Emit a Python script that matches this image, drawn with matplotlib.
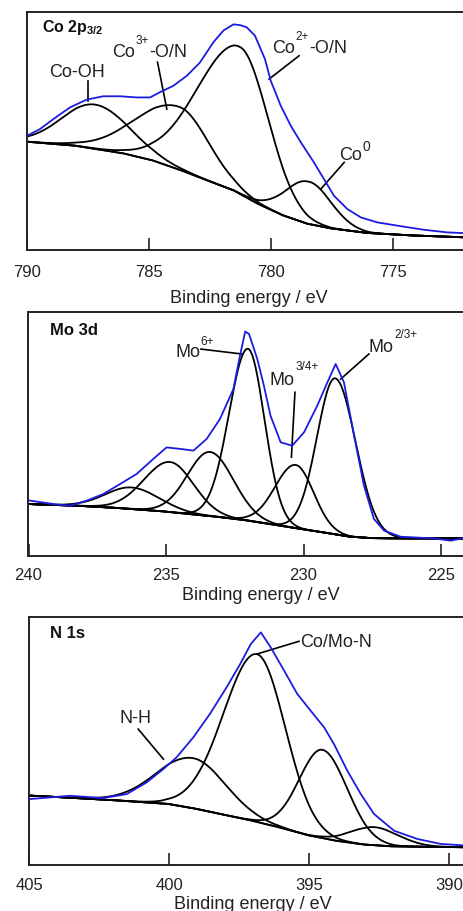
import numpy as np
import matplotlib
matplotlib.use("Agg")
import matplotlib.pyplot as plt
from matplotlib.transforms import offset_copy

plt.rcParams['font.family'] = ['Liberation Sans', 'DejaVu Sans']
plt.rcParams['mathtext.fontset'] = 'custom'
plt.rcParams['mathtext.rm'] = 'Liberation Sans'
plt.rcParams['mathtext.it'] = 'Liberation Sans:italic'
plt.rcParams['mathtext.bf'] = 'Liberation Sans:bold'

# ---------------- Co 2p3/2 ----------------
co_bg_ev = [790, 788, 786, 784.8, 783.5, 782.5, 781.5, 780.5, 779.5, 778.5, 777.5, 776, 774, 772]
co_bg_y = [45.5, 43.8, 40.5, 37.5, 32.8, 28.8, 24.9, 19.2, 14.5, 11.0, 9.0, 7.1, 6.0, 5.3]
co_peak_center = [787.2, 783.75, 781.25, 778.45]
co_peak_height = [18.6, 26.4, 61.7, 17.8]
co_peak_sig_l = [1.4, 1.2, 1.15, 0.92]
co_peak_sig_r = [1.35, 1.75, 1.75, 0.95]
co_spec_ev = [790, 789.47, 788.92, 788.24, 787.55, 786.87, 786.19, 785.5, 784.96, 784.55, 784.0,
              783.45, 782.91, 782.36, 781.95, 781.54, 781.27, 781.0, 780.66, 780.25, 780.01, 779.6,
              779.19, 778.78, 778.24, 777.83, 777.42, 776.87, 776.32, 775.64, 774.68, 773.73,
              772.77, 772.1]
co_spec_y = [48.0, 50.8, 55.0, 59.9, 63.2, 64.6, 64.6, 64.1, 64.1, 66.3, 69.0,
             73.2, 78.8, 87.3, 92.2, 94.8, 94.5, 93.6, 90.1, 80.3, 71.1, 60.6,
             52.2, 45.3, 36.8, 29.8, 22.8, 17.2, 13.7, 11.6, 10.0, 8.5,
             7.4, 7.1]

# ---------------- Mo 3d ----------------
mo_bg_ev = [240, 238, 236.5, 235, 234, 233, 232, 231, 230, 229, 228.3, 227.5, 226, 223]
mo_bg_y = [21.3, 20.5, 19.5, 18.2, 17.0, 15.9, 14.5, 12.7, 10.9, 9.2, 7.9, 7.3, 7.2, 7.2]
mo_peak_center = [236.25, 234.85, 233.4, 232.02, 230.28, 228.85]
mo_peak_height = [8.8, 20.5, 26.3, 70.4, 25.9, 63.9]
mo_peak_sig_l = [1.0, 0.85, 0.85, 0.6, 0.65, 0.75]
mo_peak_sig_r = [0.95, 0.95, 0.82, 0.69, 0.75, 0.66]
mo_spec_ev = [239.95, 239.1, 238.49, 237.88, 237.28, 236.67, 236.07, 235.46, 234.98, 234.49,
              234.0, 233.52, 233.04, 232.55, 232.31, 232.12, 231.98, 231.68, 231.44, 231.2,
              230.83, 230.41, 229.98, 229.5, 229.13, 228.83, 228.53, 228.16, 227.8, 227.44,
              227.07, 226.47, 225.25, 224.65, 224.0]
mo_spec_y = [22.7, 21.3, 20.6, 22.7, 25.4, 29.5, 33.6, 39.8, 44.5, 43.9,
             43.2, 48.0, 56.1, 68.4, 82.1, 92.0, 91.0, 80.7, 69.8, 57.5,
             46.6, 45.2, 50.7, 61.6, 71.2, 78.7, 71.2, 49.3, 28.8, 15.2,
             10.4, 7.9, 7.2, 6.3, 7.7]

# ---------------- N 1s ----------------
n_bg_ev = [405, 403, 401.5, 400, 399, 398, 397, 396, 395, 394, 393, 392, 389]
n_bg_y = [28.0, 26.8, 25.8, 24.6, 22.6, 20.2, 17.8, 15.0, 11.9, 9.7, 8.2, 7.5, 7.1]
n_peak_center = [399.13, 396.85, 394.52, 392.68]
n_peak_height = [20.2, 67.6, 35.6, 7.3]
n_peak_sig_l = [1.15, 1.0, 0.89, 0.88]
n_peak_sig_r = [1.3, 1.2, 0.83, 0.83]
n_spec_ev = [404.96, 403.54, 402.35, 401.51, 400.8, 400.2, 399.73, 399.13, 398.54, 397.94,
             397.46, 397.08, 396.72, 396.37, 395.89, 395.42, 394.94, 394.46, 394.11, 393.63,
             393.15, 392.68, 391.96, 391.13, 390.3, 389.3]
n_spec_y = [26.6, 27.9, 27.0, 28.6, 33.3, 38.7, 43.4, 51.5, 60.9, 71.7,
            81.0, 89.1, 93.8, 87.8, 78.4, 69.0, 62.2, 55.5, 48.8, 38.0,
            28.6, 20.6, 13.8, 10.5, 8.5, 7.8]

BLUE = '#1c1ce0'
TXT = '#222222'
W, H = 464, 912


def split_gauss(x, c, h, sl, sr):
    s = np.where(x < c, sl, sr)
    return h * np.exp(-(x - c) ** 2 / (2 * s ** 2))


def draw_panel(ax, bg_ev, bg_y, centers, heights, sl, sr, spec_ev, spec_y, xlim, ticks):
    x = np.linspace(min(bg_ev), max(bg_ev), 800)
    bg = np.interp(x, bg_ev[::-1], bg_y[::-1])
    ax.plot(x, bg, color='black', lw=1.3, zorder=2)
    for c, h, a, b in zip(centers, heights, sl, sr):
        ax.plot(x, bg + split_gauss(x, c, h, a, b), color='black', lw=1.3, zorder=2)
    ax.plot(spec_ev, spec_y, color=BLUE, lw=1.3, zorder=3)
    ax.set_xlim(*xlim)
    ax.set_ylim(0, 100)
    ax.set_yticks([])
    ax.set_xticks(ticks)
    ax.set_xticklabels([str(t) for t in ticks])
    for s in ['top', 'bottom', 'left', 'right']:
        ax.spines[s].set_linewidth(1.4)
        ax.spines[s].set_color(TXT)
    ax.tick_params(axis='x', direction='in', length=8.6, width=1.2, color=TXT,
                   labelsize=12, labelcolor=TXT)


fig = plt.figure(figsize=(W / 100, H / 100), dpi=100)
renderer = fig.canvas.get_renderer()


def add_axes(left, top, bottom, right=470):
    return fig.add_axes([left / W, 1 - bottom / H, (right - left) / W, (bottom - top) / H])


def label(ax, x, y, parts, raise_px=13, sup_size=8.5):
    """parts: list of (text, is_superscript)"""
    dx = 0.0
    for s, sup in parts:
        tr = offset_copy(ax.transData, fig=fig, x=dx, y=(raise_px if sup else 0), units='dots')
        t = ax.text(x, y, s, transform=tr, fontsize=(sup_size if sup else 13), color=TXT,
                    va='baseline', ha='left')
        dx += t.get_window_extent(renderer).width + 0.5


lk = dict(color='black', lw=1.2)

# Panel 1
ax1 = add_axes(27, 13, 251)
draw_panel(ax1, co_bg_ev, co_bg_y, co_peak_center, co_peak_height, co_peak_sig_l, co_peak_sig_r,
           co_spec_ev, co_spec_y, (790, 790 - 443 / 24.4), [790, 785, 780, 775])
ax1.tick_params(axis='x', pad=10)
ax1.text(0.034, 0.919, 'Co 2p$_{\\mathbf{3/2}}$', transform=ax1.transAxes, fontsize=11.5,
         fontweight='bold', va='baseline', ha='left', color='#111111')
ax1.text(787.95, 73.2, 'Co-OH', ha='center', va='baseline', fontsize=13, color=TXT)
ax1.plot([787.49, 787.49], [71.1, 62.7], **lk)
label(ax1, 786.53, 81.6, [('Co', False), ('3+', True), ('-O/N', False)])
ax1.plot([784.65, 784.27], [78.9, 59.2], **lk)
label(ax1, 779.95, 83.1, [('Co', False), ('2+', True), ('-O/N', False)])
ax1.plot([778.85, 780.08], [81.6, 71.8], **lk)
label(ax1, 777.21, 38.2, [('Co', False), ('0', True)], raise_px=9, sup_size=10)
ax1.plot([777.0, 777.96], [36.8, 25.6], **lk)
fig.text(249 / W, 1 - 290.5 / H, 'Binding energy / eV', ha='center', va='top', fontsize=13,
         color=TXT)

# Panel 2
ax2 = add_axes(28.5, 313, 557)
draw_panel(ax2, mo_bg_ev, mo_bg_y, mo_peak_center, mo_peak_height, mo_peak_sig_l, mo_peak_sig_r,
           mo_spec_ev, mo_spec_y, (240, 240 - 441.5 / 27.5), [240, 235, 230, 225])
ax2.tick_params(axis='x', pad=8)
ax2.text(0.049, 0.91, 'Mo 3d', transform=ax2.transAxes, fontsize=12, fontweight='bold',
         va='baseline', ha='left', color='#111111')
label(ax2, 234.67, 81.8, [('Mo', False), ('6+', True)], raise_px=12.5)
ax2.plot([233.73, 232.25], [84.8, 82.8], **lk)
label(ax2, 231.22, 70.5, [('Mo', False), ('3/4+', True)], raise_px=15)
ax2.plot([230.31, 230.44], [67.1, 40.5], **lk)
label(ax2, 227.62, 83.9, [('Mo', False), ('2/3+', True)], raise_px=14)
ax2.plot([227.62, 228.65], [82.8, 72.5], **lk)
fig.text(261 / W, 1 - 587 / H, 'Binding energy / eV', ha='center', va='top', fontsize=13,
         color=TXT)

# Panel 3
ax3 = add_axes(29, 618, 866)
draw_panel(ax3, n_bg_ev, n_bg_y, n_peak_center, n_peak_height, n_peak_sig_l, n_peak_sig_r,
           n_spec_ev, n_spec_y, (405, 405 - 441 / 28), [405, 400, 395, 390])
ax3.tick_params(axis='x', pad=8.4)
ax3.text(0.048, 0.92, 'N 1s', transform=ax3.transAxes, fontsize=12, fontweight='bold',
         va='baseline', ha='left', color='#111111')
ax3.text(401.2, 57.5, 'N-H', ha='center', va='baseline', fontsize=13, color=TXT)
ax3.plot([401.1, 400.2], [54.8, 42.7], **lk)
ax3.text(395.3, 88.4, 'Co/Mo-N', ha='left', va='baseline', fontsize=13, color=TXT)
ax3.plot([395.36, 396.85], [90.2, 85.1], **lk)
fig.text(252.6 / W, 1 - 896 / H, 'Binding energy / eV', ha='center', va='top', fontsize=13,
         color=TXT)

fig.savefig('out.png', dpi=100)
